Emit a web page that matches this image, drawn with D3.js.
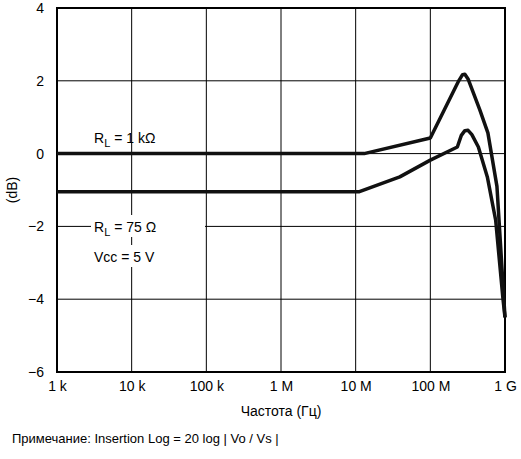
<!DOCTYPE html><html><head><meta charset="utf-8"><script src="https://cdn.jsdelivr.net/npm/d3@7"></script>
<style>body{margin:0;background:#fff}text{font-family:"Liberation Sans",Arial,sans-serif;fill:#000}</style></head><body><svg width="521" height="459"></svg><script>
const xTicks=[1e3,1e4,1e5,1e6,1e7,1e8,1e9];
const xLabels=["1 k","10 k","100 k","1 M","10 M","100 M","1 G"];
const yTicks=[-6,-4,-2,0,2,4];
const freq1=[1e3,1.3e7,1e8,2.4e8,2.7e8,2.9e8,3.2e8,4.6e8,5.9e8,7.8e8,1e9];
const db1=[0,0,0.43,2.0,2.17,2.18,2.05,1.2,0.57,-0.9,-4.5];
const freq2=[1e3,1.1e7,3.9e7,1e8,2.3e8,2.6e8,2.9e8,3.2e8,3.6e8,4.4e8,5.8e8,7.5e8,9.4e8,1e9];
const db2=[-1.05,-1.05,-0.64,-0.18,0.18,0.5,0.63,0.64,0.52,0.18,-0.64,-1.83,-4.0,-4.5];
const svg=d3.select("svg");
const L=57,R=505,T=8,B=372;
const x=d3.scaleLog().domain([1e3,1e9]).range([L,R]);
const y=d3.scaleLinear().domain([-6,4]).range([B,T]);
const g=svg.append("g");
xTicks.forEach(t=>g.append("line").attr("x1",x(t)).attr("x2",x(t)).attr("y1",T).attr("y2",B).attr("stroke","#000").attr("stroke-width",1));
yTicks.forEach(t=>g.append("line").attr("x1",L).attr("x2",R).attr("y1",y(t)).attr("y2",y(t)).attr("stroke","#000").attr("stroke-width",1));
g.append("rect").attr("x",L).attr("y",T).attr("width",R-L).attr("height",B-T).attr("fill","none").attr("stroke","#000").attr("stroke-width",2);
svg.append("g").attr("transform",`translate(0,${B})`).call(d3.axisBottom(x).tickValues(xTicks).tickFormat((d,i)=>xLabels[i]).tickSize(0).tickPadding(9))
 .call(a=>a.select(".domain").remove()).selectAll("text").attr("font-size",14).attr("font-family","Liberation Sans, Arial");
svg.append("g").attr("transform",`translate(${L},0)`).call(d3.axisLeft(y).tickValues(yTicks).tickFormat(d=>d<0?"−"+(-d):d).tickSize(0).tickPadding(13))
 .call(a=>a.select(".domain").remove()).selectAll("text").attr("font-size",14).attr("font-family","Liberation Sans, Arial");
const line=d3.line().x(d=>x(d[0])).y(d=>y(d[1])).curve(d3.curveLinear);
[[freq1,db1],[freq2,db2]].forEach(([f,v])=>svg.append("path").attr("d",line(f.map((a,i)=>[a,v[i]]))).attr("fill","none").attr("stroke","#111").attr("stroke-width",3.5).attr("stroke-linejoin","round"));
function lab(xx,yy,parts){const t=svg.append("text").attr("x",xx).attr("y",yy).attr("font-size",14);parts.forEach(p=>t.append("tspan").attr("dy",p[1]||0).attr("font-size",p[2]||14).text(p[0]));return t;}
svg.append("rect").attr("x",91).attr("y",215).attr("width",114).attr("height",22).attr("fill","#fff");
svg.append("rect").attr("x",91).attr("y",245).attr("width",90).attr("height",22).attr("fill","#fff");
lab(94,143,[["R"],["L",4,11],[" = 1 kΩ",-4]]);
lab(94,232,[["R"],["L",4,11],[" = 75 Ω",-4]]);
lab(94,262,[["Vcc = 5 V"]]);
svg.append("text").attr("transform","translate(17,190) rotate(-90)").attr("text-anchor","middle").attr("font-size",14).text("(dB)");
svg.append("text").attr("x",281).attr("y",416).attr("text-anchor","middle").attr("font-size",14).text("Частота (Гц)");
svg.append("text").attr("x",12).attr("y",443).attr("font-size",13).text("Примечание: Insertion Log = 20 log | Vo / Vs |");
</script></body></html>
